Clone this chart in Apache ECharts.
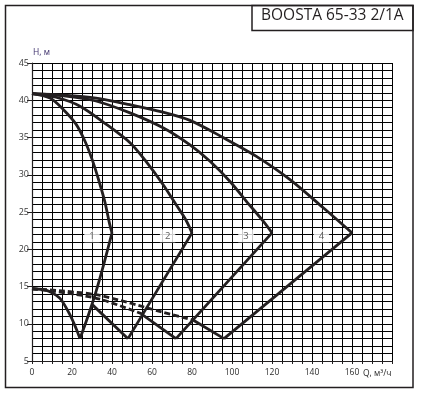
<!DOCTYPE html>
<html>
<head>
<meta charset="utf-8">
<script src="https://cdn.jsdelivr.net/npm/echarts@6/dist/echarts.min.js"></script>
<style>
  html, body { margin: 0; padding: 0; background: #fff; }
  #main { width: 426px; height: 402px; }
</style>
</head>
<body>
<div id="main"></div>
<script>
// pump curves H(Q)
const upper1 = [[0, 40.9], [9, 40.3], [15.5, 38.8], [22, 36.8], [26.5, 34.5], [30, 32.1], [33, 29.6], [36.4, 26.4], [38.8, 23.4], [40, 22.2]];
const upper2 = [[0, 40.9], [12, 40.4], [24, 39.2], [37, 36.8], [49, 34.3], [57, 31.8], [65.5, 28.7], [72, 26], [77, 23.9], [80, 22.2]];
const upper3 = [[0, 40.9], [16, 40.6], [32, 39.9], [49, 38.3], [65.5, 36.3], [79, 34], [89, 31.8], [99, 29.1], [107, 26.5], [115.5, 23.8], [120, 22.2]];
const upper4 = [[0, 40.9], [16, 40.7], [32, 40.3], [49, 39.4], [65.5, 38.4], [79, 37.3], [95.5, 35], [112, 32.5], [129, 29.35], [145.5, 25.6], [160, 22.2]];

// right edges (tip -> bottom V)
const edge1 = [[40, 22.2], [36, 18.1], [32, 14.3], [28, 11], [24, 8]];
const edge2 = [[80, 22.2], [48, 8]];
const edge3 = [[120, 22.2], [72, 8]];
const edge4 = [[160, 22.2], [96, 8]];

// lower edges
const lower1 = [[0, 14.7], [5, 14.6], [9, 14.3], [14, 13.4], [19, 11.2], [22, 9.4], [24, 8]];
const lower2 = [[30, 12.6], [48, 8]];
const lower3 = [[55.3, 11.2], [72, 8]];
const lower4 = [[80.5, 10.5], [96, 8]];

// dashed lines
const dashA = [[0, 14.7], [15, 14.4], [34, 13.8], [65.5, 11.55], [80.5, 10.5]];
const dashB = [[0, 14.7], [18, 14.1], [34, 13.3], [55.3, 11.3]];

// curve numbers
const curveNames = ["1", "2", "3", "4"];
const curveLabelPos = [[30, 21.8], [67.8, 21.8], [107, 21.8], [144.7, 21.8]];

const ink = "#231f20";

function line(name, data, smooth, dashed) {
  return {
    name: name,
    type: "line",
    data: data,
    smooth: smooth,
    symbol: "none",
    silent: true,
    z: 3,
    lineStyle: {
      color: ink,
      width: 2.8,
      type: dashed ? [6, 3] : "solid",
      cap: "butt",
    },
  };
}

var chartDom = document.getElementById("main");
var myChart = echarts.init(chartDom);
var option;

option = {
  animation: false,
  backgroundColor: "#fff",
  textStyle: { fontFamily: "Open Sans" },
  grid: { left: 32, right: 34, top: 63, bottom: 41 },
  xAxis: {
    type: "value",
    min: 0,
    max: 180,
    interval: 20,
    axisLine: { lineStyle: { color: ink, width: 1.2 } },
    axisTick: { show: true, length: 3, lineStyle: { color: ink } },
    minorTick: { show: true, splitNumber: 4, length: 3, lineStyle: { color: ink } },
    axisLabel: {
      color: "#2b2b2b",
      fontSize: 8.5,
      margin: 7,
      formatter: function (v) {
        return v > 160 ? "" : String(v);
      },
    },
    splitLine: { show: true, lineStyle: { color: "#000", width: 1 } },
    minorSplitLine: { show: true, lineStyle: { color: "#000", width: 1 } },
  },
  yAxis: {
    type: "value",
    min: 5,
    max: 45,
    interval: 5,
    name: "H, м",
    nameLocation: "end",
    nameGap: 6,
    nameTextStyle: { color: "#3d2f6b", fontSize: 8.5, align: "left", padding: [0, 0, 0, 1] },
    axisLine: { lineStyle: { color: ink, width: 1.2 } },
    axisTick: { show: true, length: 5, lineStyle: { color: ink } },
    minorTick: { show: false, splitNumber: 5 },
    axisLabel: { color: "#3a3a3a", fontSize: 9, margin: 3 },
    splitLine: { show: true, lineStyle: { color: "#000", width: 1 } },
    minorSplitLine: { show: true, lineStyle: { color: "#000", width: 1 } },
  },
  graphic: [
    {
      type: "rect",
      shape: { x: 5.5, y: 5.5, width: 407.5, height: 382 },
      style: { fill: "none", stroke: ink, lineWidth: 1.5 },
      z: 100,
    },
    {
      type: "rect",
      shape: { x: 252, y: 5.5, width: 161, height: 25 },
      style: { fill: "none", stroke: ink, lineWidth: 1.5 },
      z: 100,
    },
    {
      type: "text",
      left: 261,
      top: 8,
      style: { text: "BOOSTA 65-33 2/1A", fill: ink, fontSize: 15.5, fontFamily: "Open Sans" },
      z: 100,
    },
    {
      type: "text",
      left: 363,
      top: 369,
      style: { text: "Q, м³/ч", fill: "#2b2b2b", fontSize: 8.5, fontFamily: "Open Sans" },
      z: 100,
    },
  ],
  series: [
    line("upper 1", upper1, 0.3, false),
    line("upper 2", upper2, 0.3, false),
    line("upper 3", upper3, 0.3, false),
    line("upper 4", upper4, 0.3, false),
    line("edge 1", edge1, 0.3, false),
    line("edge 2", edge2, false, false),
    line("edge 3", edge3, false, false),
    line("edge 4", edge4, false, false),
    line("lower 1", lower1, 0.3, false),
    line("lower 2", lower2, false, false),
    line("lower 3", lower3, false, false),
    line("lower 4", lower4, false, false),
    line("dash A", dashA, 0.3, true),
    line("dash B", dashB, 0.3, true),
    {
      name: "numbers",
      type: "scatter",
      symbolSize: 0,
      silent: true,
      z: 5,
      data: curveLabelPos.map(function (p, i) {
        return { value: p, name: curveNames[i] };
      }),
      label: {
        show: true,
        position: "inside",
        formatter: "{b}",
        color: "#333",
        fontSize: 9.5,
        backgroundColor: "#fff",
        padding: [2, 5, 1, 5],
      },
    },
  ],
};

option && myChart.setOption(option);
</script>
</body>
</html>
